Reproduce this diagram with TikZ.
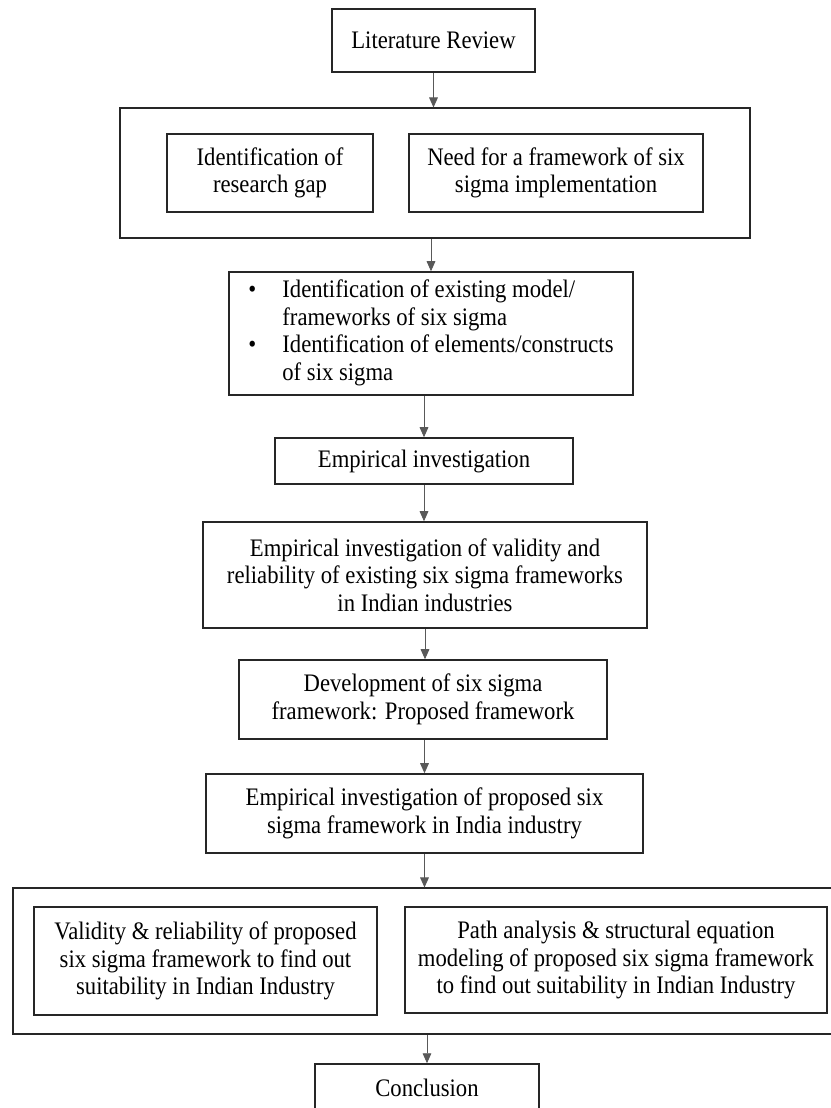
\documentclass[tikz,border=0pt]{standalone}
\usepackage{fontspec}
\setmainfont{Liberation Serif}[FakeStretch=0.9]
\usepackage{tikz}
\usetikzlibrary{
  positioning,
  arrows.meta,
  fit
}
\newcommand{\pxu}{0.03cm}

\begin{document}
\begin{tikzpicture}[
  x=\pxu, y=-\pxu,
  >={Triangle[width=0.26cm,length=0.3cm]},
  box/.style={draw=black!85, line width=1.3pt, inner sep=0pt,
              font=\fontsize{21.5}{23.5}\selectfont, align=center},
  frame/.style={draw=black!85, line width=1.3pt},
  arr/.style={->, line width=0.8pt, draw=black!65, fill=black},
]
\useasboundingbox (0,0) rectangle (830,1108);

\node[box, minimum width=203*\pxu, minimum height=63*\pxu] (lit) at (433.5,40.5) {Literature Review};

\node[box, minimum width=206*\pxu, minimum height=78*\pxu] (gap) at (270,173) {Identification of\\research gap};
\node[box, minimum width=294*\pxu, minimum height=78*\pxu] (need) at (556,173) {Need for a framework of six\\sigma implementation};
\node[frame, fit=(gap)(need), inner xsep=46*\pxu, inner ysep=25*\pxu] (stage1) {};

\node[box, minimum width=404*\pxu, minimum height=123*\pxu] (exist) at (431,333.5) {%
  \begin{tabular}{@{}l@{\hspace{0.78cm}}l@{}}
  \textbullet & Identification of existing model/\\
              & frameworks of six sigma\\
  \textbullet & Identification of elements/constructs\\
              & of six sigma
  \end{tabular}};

\node[box, minimum width=298*\pxu, minimum height=46*\pxu] (emp) at (424,461) {Empirical investigation};
\node[box, minimum width=444*\pxu, minimum height=106*\pxu] (valid) at (425,575) {Empirical investigation of validity and\\reliability of existing six sigma frameworks\\in Indian industries};
\node[box, minimum width=368*\pxu, minimum height=79*\pxu] (dev) at (423,699.5) {Development of six sigma\\framework: Proposed framework};
\node[box, minimum width=437*\pxu, minimum height=79*\pxu] (prop) at (424.5,813.5) {Empirical investigation of proposed six\\sigma framework in India industry};

\node[box, minimum width=343*\pxu, minimum height=108*\pxu] (rel) at (205.5,961) {Validity \& reliability of proposed\\six sigma framework to find out\\suitability in Indian Industry};
\node[box, minimum width=422*\pxu, minimum height=106*\pxu] (sem) at (616,960) {Path analysis \& structural equation\\modeling of proposed six sigma framework\\to find out suitability in Indian Industry};
\node[frame, fit=(rel)(sem), inner xsep=20*\pxu, inner ysep=18*\pxu] (stage2) {};

\node[box, minimum width=224*\pxu, minimum height=48*\pxu] (concl) at (427,1088) {Conclusion};

% flow
\draw[arr] (lit.south) -- (lit.south |- stage1.north);
\draw[arr] (exist.north |- stage1.south) -- (exist.north);
\draw[arr] (emp.north |- exist.south) -- (emp.north);
\draw[arr] (emp.south) -- (emp.south |- valid.north);
\draw[arr] (valid.south) -- (valid.south |- dev.north);
\draw[arr] (prop.north |- dev.south) -- (prop.north);
\draw[arr] (prop.south) -- (prop.south |- stage2.north);
\draw[arr] (concl.north |- stage2.south) -- (concl.north);

\end{tikzpicture}
\end{document}
